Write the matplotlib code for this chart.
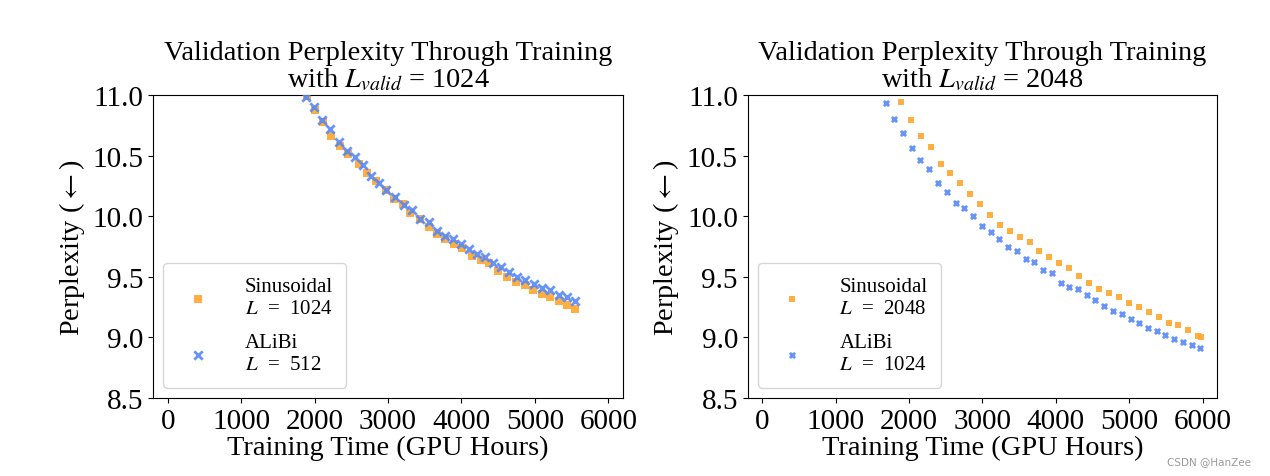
import matplotlib
matplotlib.use("Agg")
import matplotlib.pyplot as plt

plt.rcParams["font.family"] = ["Liberation Serif", "DejaVu Serif"]
plt.rcParams["mathtext.fontset"] = "stix"

ORANGE = "#FFA52C"
BLUE = "#5588F8"

# left panel: L_valid = 1024
sin_1024_x = [1890, 2001, 2114, 2228, 2342, 2455, 2605, 2714, 2842, 2969, 3087,
              3205, 3305, 3432, 3551, 3660, 3778, 3896, 4005, 4142, 4260, 4378,
              4496, 4623, 4741, 4860, 4978, 5096, 5205, 5323, 5432, 5541]
sin_1024_y = [10.99, 10.876, 10.775, 10.66, 10.58, 10.51, 10.43, 10.36, 10.29,
              10.22, 10.14, 10.10, 10.03, 9.98, 9.91, 9.85, 9.81, 9.77, 9.74,
              9.67, 9.64, 9.61, 9.55, 9.50, 9.46, 9.43, 9.39, 9.36, 9.33, 9.30,
              9.27, 9.234]
alibi_512_x = [1878, 1991, 2105, 2214, 2332, 2441, 2550, 2660, 2773, 2878, 2978,
               3096, 3214, 3323, 3432, 3551, 3660, 3769, 3878, 3987, 4096, 4205,
               4314, 4423, 4532, 4641, 4760, 4869, 4987, 5096, 5205, 5323, 5432,
               5541]
alibi_512_y = [10.98, 10.90, 10.79, 10.72, 10.61, 10.54, 10.49, 10.42, 10.33,
               10.27, 10.22, 10.16, 10.09, 10.05, 9.98, 9.95, 9.88, 9.84, 9.81,
               9.77, 9.73, 9.69, 9.66, 9.61, 9.58, 9.54, 9.50, 9.47, 9.44, 9.41,
               9.39, 9.35, 9.33, 9.30]

# right panel: L_valid = 2048
sin_2048_x = [1889, 2024, 2160, 2296, 2432, 2564, 2700, 2836, 2968, 3104, 3240,
              3376, 3513, 3644, 3776, 3912, 4048, 4184, 4320, 4456, 4592, 4728,
              4860, 4996, 5128, 5264, 5400, 5536, 5668, 5804, 5936, 5976]
sin_2048_y = [10.945, 10.79, 10.66, 10.57, 10.43, 10.36, 10.27, 10.18, 10.10,
              10.01, 9.93, 9.88, 9.83, 9.79, 9.71, 9.66, 9.61, 9.57, 9.51, 9.45,
              9.40, 9.37, 9.33, 9.28, 9.25, 9.21, 9.17, 9.12, 9.10, 9.06, 9.01,
              9.00]
alibi_1024_x = [1680, 1798, 1916, 2034, 2152, 2276, 2394, 2512, 2634, 2752, 2874,
                2992, 3110, 3232, 3350, 3468, 3590, 3708, 3826, 3944, 4066, 4184,
                4302, 4420, 4538, 4660, 4778, 4896, 5018, 5136, 5254, 5376, 5494,
                5612, 5730, 5852, 5968]
alibi_1024_y = [10.934, 10.80, 10.69, 10.56, 10.46, 10.39, 10.27, 10.20, 10.11,
                10.07, 10.00, 9.92, 9.87, 9.81, 9.75, 9.71, 9.65, 9.62, 9.56, 9.53,
                9.45, 9.42, 9.40, 9.35, 9.31, 9.26, 9.22, 9.19, 9.15, 9.12, 9.08,
                9.05, 9.02, 8.99, 8.96, 8.94, 8.91]

panels = [
    (1024, sin_1024_x, sin_1024_y, alibi_512_x, alibi_512_y, "1024", "512", 38, 36),
    (2048, sin_2048_x, sin_2048_y, alibi_1024_x, alibi_1024_y, "2048", "1024", 22, 14),
]

fig = plt.figure(figsize=(12.7, 4.77), dpi=100)
axes = [fig.add_axes([0.1205, 0.1635, 0.3701, 0.6352]),
        fig.add_axes([0.5887, 0.1635, 0.3698, 0.6352])]

for ax, (lv, sx, sy, ax_x, ax_y, ls, la, s_sq, s_x) in zip(axes, panels):
    ax.scatter(sx, sy, marker="s", s=s_sq, color=ORANGE, alpha=0.9,
               linewidths=0, label=f"Sinusoidal\n$L$  =  {ls}", zorder=2)
    ax.scatter(ax_x, ax_y, marker="x", s=s_x, color=BLUE, alpha=0.9,
               linewidths=2, label=f"ALiBi\n$L$  =  {la}", zorder=3)
    ax.set_xlim(-200, 6200)
    ax.set_ylim(8.5, 11.0)
    ax.set_xticks([0, 1000, 2000, 3000, 4000, 5000, 6000])
    ax.set_yticks([8.5, 9.0, 9.5, 10.0, 10.5, 11.0])
    ax.tick_params(labelsize=21)
    ax.set_xlabel("Training Time (GPU Hours)", fontsize=20.4, labelpad=1)
    ax.set_ylabel(r"Perplexity ($\leftarrow$)", fontsize=20.3)
    ax.set_title(f"Validation Perplexity Through Training\nwith $L_{{valid}}$ = {lv}",
                 fontsize=20.4, linespacing=1.05, pad=6)
    ax.legend(loc="lower left", fontsize=15, handletextpad=1.25,
              labelspacing=0.75, borderpad=0.65)

fig.text(0.985, 0.025, "CSDN @HanZee", ha="right", fontsize=7.5,
         color="#999999", family="DejaVu Sans")

fig.savefig("out.png", dpi=100)
